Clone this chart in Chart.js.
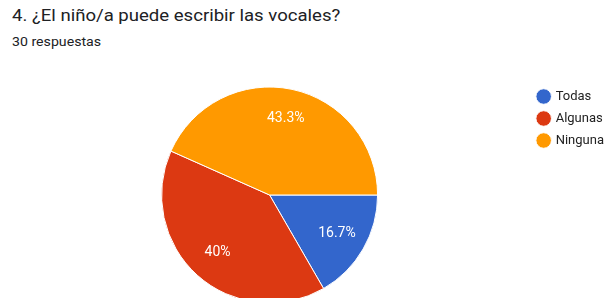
<!DOCTYPE html>
<html>
<head>
<meta charset="utf-8">
<script src="https://cdn.jsdelivr.net/npm/chart.js@4"></script>
<style>
  html, body { margin: 0; padding: 0; background: #fff; overflow: hidden; }
  body { width: 608px; height: 298px; position: relative; font-family: Roboto, Arial, sans-serif; }
  #title { position: absolute; left: 12px; top: 6px; font-size: 16px; line-height: 20px; color: #202124; white-space: nowrap; transform: scaleX(1.16); transform-origin: 0 0; }
  #sub { position: absolute; left: 12px; top: 35px; font-size: 12px; line-height: 14px; color: #202124; white-space: nowrap; transform: scaleX(1.18); transform-origin: 0 0; }
  #wrap { position: absolute; left: 0; top: 0; width: 614px; height: 316px; }
</style>
</head>
<body>
<div id="title">4. ¿El niño/a puede escribir las vocales?</div>
<div id="sub">30 respuestas</div>
<div id="wrap"><canvas id="pie" width="614" height="316"></canvas></div>
<script>
var labels = ["Todas", "Algunas", "Ninguna"];
var counts = [5, 12, 13];
var colors = ["#3366cc", "#dc3912", "#ff9900"];

var total = counts.reduce(function (a, b) { return a + b; }, 0);

// percentages drawn inside the slices
var sliceLabels = {
    id: "sliceLabels",
    afterDatasetsDraw: function (chart) {
        var ctx = chart.ctx;
        var arcs = chart.getDatasetMeta(0).data;
        ctx.save();
        ctx.font = "14px Roboto, Arial, sans-serif";
        ctx.fillStyle = "#ffffff";
        ctx.textAlign = "center";
        ctx.textBaseline = "middle";
        arcs.forEach(function (arc, i) {
            var p = arc.getProps(["x", "y", "startAngle", "endAngle", "outerRadius"], true);
            var mid = (p.startAngle + p.endAngle) / 2;
            var r = p.outerRadius * 0.72;
            var pct = (counts[i] / total * 100).toFixed(1).replace(/\.0$/, "");
            ctx.fillText(pct + "%", p.x + Math.cos(mid) * r, p.y + Math.sin(mid) * r);
        });
        ctx.restore();
    }
};

new Chart("pie", {
    type: "pie",
    data: {
        labels: labels,
        datasets: [{
            data: counts,
            backgroundColor: colors,
            borderColor: "#ffffff",
            borderWidth: 1
        }]
    },
    options: {
        responsive: false,
        animation: false,
        devicePixelRatio: 1,
        rotation: 90,
        radius: 108,
        layout: { padding: { top: 81, bottom: 7, left: 10, right: 0 } },
        plugins: {
            tooltip: { enabled: false },
            legend: {
                position: "right",
                align: "start",
                labels: {
                    usePointStyle: true,
                    pointStyle: "circle",
                    boxWidth: 11,
                    boxHeight: 11,
                    padding: 9,
                    color: "#222222",
                    font: { family: "Roboto, Arial, sans-serif", size: 13 }
                }
            }
        }
    },
    plugins: [sliceLabels]
});
</script>
</body>
</html>
